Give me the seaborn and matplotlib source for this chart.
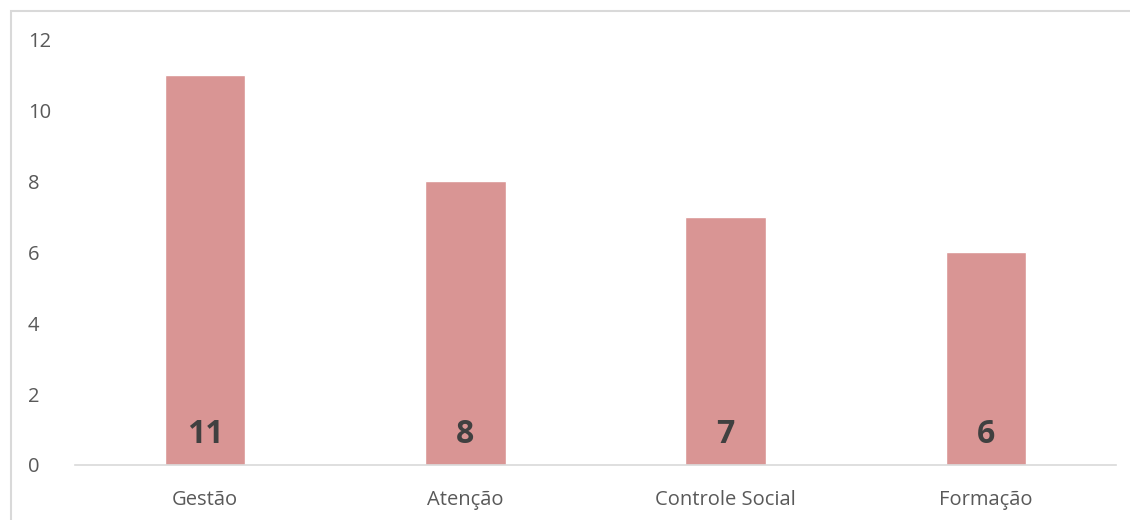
import matplotlib
matplotlib.use("Agg")
import matplotlib.pyplot as plt
import seaborn as sns
import pandas as pd
from matplotlib.patches import Rectangle

categories = ["Gestão", "Atenção", "Controle Social", "Formação"]
values = [11, 8, 7, 6]
yticks = [0, 2, 4, 6, 8, 10, 12]

sns.set_theme(style="white")
plt.rcParams['font.family'] = ['Open Sans', 'DejaVu Sans']

df = pd.DataFrame({"cat": categories, "val": values})

fig = plt.figure(figsize=(11.3, 5.2), dpi=100)
ax = fig.add_axes([75/1130, 1 - 465/520, (1116-75)/1130, (465-39)/520])

sns.barplot(data=df, x="cat", y="val", color="#D99594", saturation=1,
            width=0.31, ax=ax)

ax.set_ylim(0, 12)
ax.set_yticks(yticks)
ax.set_xlim(-0.5, len(categories) - 0.5)
ax.set_xlabel("")
ax.set_ylabel("")
for s in ["top", "right", "left"]:
    ax.spines[s].set_visible(False)
ax.spines["bottom"].set_color("#D9D9D9")
ax.spines["bottom"].set_linewidth(1.2)
ax.tick_params(axis="both", length=0, labelsize=14.5, colors="#595959")
ax.tick_params(axis="y", pad=34)
ax.tick_params(axis="x", pad=18)
for lbl in ax.get_yticklabels():
    lbl.set_horizontalalignment("left")

for i, v in enumerate(values):
    ax.text(i, 0.85, str(v), ha="center", va="center", fontsize=23,
            fontweight="bold", color="#404040")

# figure border
fig.patches.append(Rectangle((11/1130, -0.1), 1.2, 1 - 11/520 + 0.1,
                             transform=fig.transFigure, fill=False,
                             edgecolor="#D9D9D9", linewidth=1.5))

fig.savefig("out.png", dpi=100)
